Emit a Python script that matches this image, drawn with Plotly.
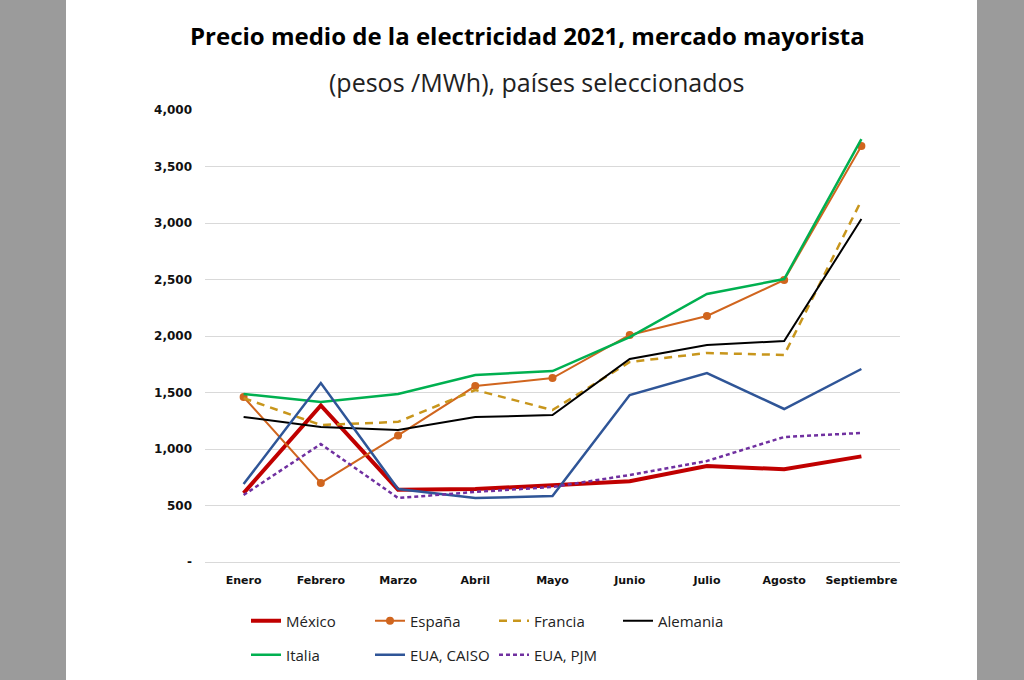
import plotly.graph_objects as go

meses = ["Enero", "Febrero", "Marzo", "Abril", "Mayo", "Junio", "Julio", "Agosto", "Septiembre"]

mexico = [610, 1385, 640, 645, 680, 715, 850, 820, 935]
espana = [1460, 700, 1120, 1557, 1628, 2009, 2177, 2496, 3681]
francia = [1450, 1212, 1240, 1522, 1345, 1770, 1850, 1832, 3200]
alemania = [1283, 1195, 1168, 1283, 1300, 1796, 1920, 1956, 3035]
italia = [1487, 1416, 1487, 1655, 1690, 1991, 2372, 2504, 3743]
caiso = [690, 1584, 646, 566, 584, 1478, 1672, 1354, 1708]
pjm = [593, 1044, 566, 620, 664, 770, 894, 1106, 1142]

y_ticks = [0, 500, 1000, 1500, 2000, 2500, 3000, 3500, 4000]
y_ticktext = ["-", "500", "1,000", "1,500", "2,000", "2,500", "3,000", "3,500", "4,000"]

FONT = "Open Sans"
TICKFONT = "DejaVu Sans"
fig = go.Figure()

def add(name, y, color, width, dash="solid", marker=False, legend="legend"):
    fig.add_trace(go.Scatter(
        x=meses, y=y, name=name,
        mode="lines+markers" if marker else "lines",
        line=dict(color=color, width=width, dash=dash),
        marker=dict(size=8, color=color) if marker else None,
        legend=legend,
    ))

add("México", mexico, "#C00000", 4)
add("España", espana, "#D0651E", 2, marker=True)
add("Francia", francia, "#C8961C", 2.5, dash="8px,6px")
add("Alemania", alemania, "#000000", 2)
add("Italia", italia, "#00B050", 2.5, legend="legend2")
add("EUA, CAISO", caiso, "#2F5597", 2.5, legend="legend2")
add("EUA, PJM", pjm, "#7030A0", 2.5, dash="4px,3px", legend="legend2")

L, R, T, B = 205, 124, 110, 118
PW = 1024 - L - R
PH = 680 - T - B

def px(x):
    return (x - L) / PW

def py(y):
    return (680 - B - y) / PH

leg_common = dict(
    orientation="h", xanchor="left", yanchor="middle",
    font=dict(family=FONT, size=15, color="#222222"),
    entrywidth=79, bgcolor="rgba(0,0,0,0)", itemwidth=30,
    tracegroupgap=0,
)

fig.update_layout(
    width=1024, height=680,
    margin=dict(l=L, r=R, t=T, b=B, autoexpand=False),
    paper_bgcolor="#9B9B9B",
    plot_bgcolor="white",
    showlegend=True,
    legend=dict(x=px(246), y=py(621), **leg_common),
    legend2=dict(x=px(246), y=py(655), **leg_common),
    xaxis=dict(
        range=[-0.5, 8.5], showgrid=False, showline=False, ticks="",
        tickfont=dict(family=TICKFONT, size=11, color="#111111", weight=700),
        ticklabelstandoff=10,
    ),
    yaxis=dict(
        range=[0, 4000], tickvals=y_ticks, ticktext=y_ticktext,
        showgrid=True, gridcolor="#D9D9D9", gridwidth=1,
        zeroline=True, zerolinecolor="#D9D9D9", zerolinewidth=1,
        tickfont=dict(family=TICKFONT, size=12, color="#111111", weight=700),
        ticklabelstandoff=12,
    ),
    shapes=[dict(type="rect", xref="paper", yref="paper",
                 x0=px(66), x1=px(977), y0=-2, y1=2,
                 fillcolor="white", line=dict(width=0), layer="below")],
    annotations=[
        dict(text="<b>Precio medio de la electricidad 2021, mercado mayorista</b>",
             xref="paper", yref="paper", x=px(527), y=py(35),
             xanchor="center", yanchor="middle", showarrow=False,
             font=dict(family=FONT, size=24, color="#000000")),
        dict(text="(pesos /MWh), países seleccionados",
             xref="paper", yref="paper", x=px(536), y=py(82),
             xanchor="center", yanchor="middle", showarrow=False,
             font=dict(family=FONT, size=25, color="#222222")),
    ],
)

fig.write_html("out.html",
               config={"displayModeBar": False},
               post_script="document.body.style.margin='0';document.body.style.background='#9B9B9B';")
